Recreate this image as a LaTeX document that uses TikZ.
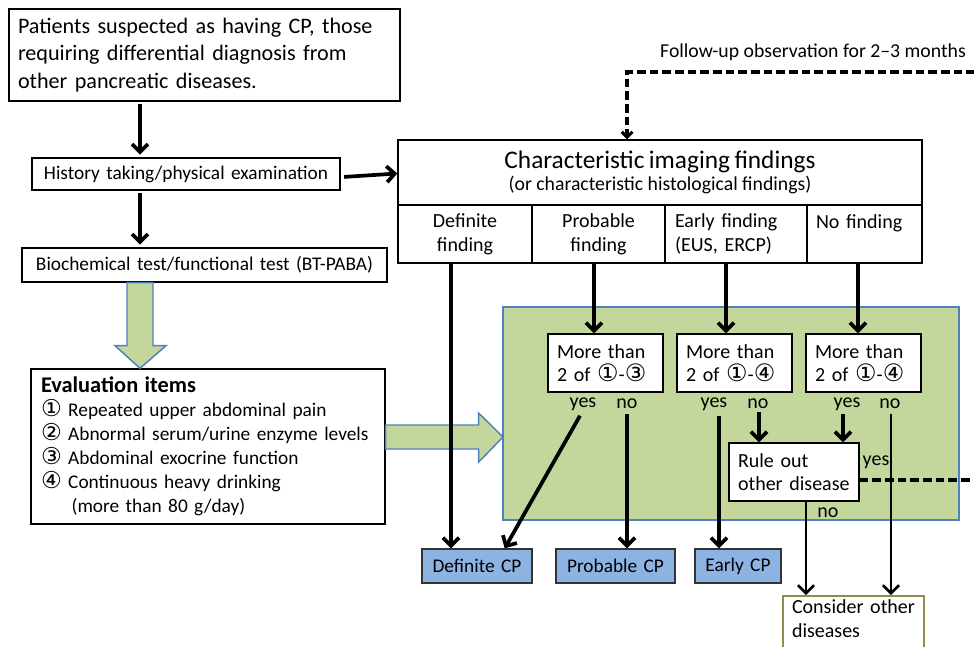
\documentclass[tikz,border=0pt]{standalone}
\usepackage{fontspec}
\setmainfont{Carlito}
\newfontfamily\dv{DejaVu Sans}[Scale=1.2]
\usetikzlibrary{arrows.meta,calc}
\definecolor{gfill}{RGB}{195,214,155}
\definecolor{bborder}{RGB}{79,129,189}
\definecolor{cpblue}{RGB}{141,179,226}
\definecolor{olive}{RGB}{148,138,84}
\newcommand\cn[1]{{\dv #1}}
\newcommand\mybox[8]{%
  \pgfmathsetmacro\bw{(#4-#2)*0.75}%
  \pgfmathsetmacro\bh{(#5-#3)*0.75}%
  \pgfmathsetmacro\tw{(#4-#2-2*#7)*0.75}%
  \node[#6, inner xsep=0pt, inner ysep=0pt, text width=\tw pt, minimum width=\bw pt, minimum height=\bh pt] (#1) at ({(#2+#4)/2},{(#3+#5)/2}) {#8};}
\tikzset{
  box/.style={draw=black, line width=1pt, fill=white},
  cpbox/.style={draw=black!80, line width=1pt, fill=cpblue, align=center, font=\fontsize{14.5}{17}\selectfont},
  lbl/.style={inner sep=0pt, font=\fontsize{15}{17}\selectfont},
  arr/.style={line width=2.8pt, -{Straight Barb[length=6pt,width=12pt]}},
  dsh/.style={line width=2.3pt, dash pattern=on 6.5pt off 3pt},
  garrow/.style={fill=gfill, draw=bborder, line width=1.1pt},
}
\begin{document}
\begin{tikzpicture}[x=0.75pt,y=-0.75pt]
\useasboundingbox (0,0) rectangle (974,646);
\coordinate (x140) at (140,0);
% boxes
\mybox{top}{9}{9}{400}{101}{box, align=left, font=\fontsize{16.6}{20.5}\selectfont}{9}{Patients suspected as having CP, those\\requiring differential diagnosis from\\other pancreatic diseases.}
\mybox{hist}{32}{158}{340}{190}{box, align=center, font=\fontsize{14.5}{17}\selectfont}{2}{History taking/physical examination}
\mybox{bio}{22}{248}{387}{282}{box, align=center, font=\fontsize{14.5}{17}\selectfont}{2}{Biochemical test/functional test (BT-PABA)}
\mybox{eval}{31}{369}{385}{524}{box, align=left, font=\fontsize{14.5}{18}\selectfont}{10}{{\fontsize{16.8}{18}\selectfont\bfseries Evaluation items}\\\cn{①} Repeated upper abdominal pain\\\cn{②} Abnormal serum/urine enzyme levels\\\cn{③} Abdominal exocrine function\\\cn{④} Continuous heavy drinking\\\hspace*{23pt}(more than 80 g/day)}
% green down arrow
\draw[garrow] ($(bio.south -| x140)+(-13,0)$) -- ++(26,0) -- ++(0,63) -- ++(13,0) -- (eval.north -| x140) -- ($(bio.south -| x140)+(-25,63)$) -- ++(12,0) -- cycle;
% green region
\mybox{grp}{503}{307}{959}{520}{fill=gfill, draw=bborder, line width=1pt}{0}{}
\coordinate (tipR) at (503,437);
\draw[garrow] ($(eval.east)+(0,-21.5)$) -- ++(93,0) -- ++(0,-12) -- (tipR) -- ($(eval.east)+(93,15.5)$) -- ++(0,-13) -- ($(eval.east)+(0,2.5)$) -- cycle;
% characteristic box
\mybox{ct}{398}{140}{922}{205}{box, align=center}{4}{{\fontsize{19}{19}\selectfont Characteristic imaging findings}\\[2pt]{\fontsize{14.8}{15}\selectfont (or characteristic histological findings)}}
\mybox{c1}{398}{205}{532}{263}{box, align=center, font=\fontsize{15}{18}\selectfont}{2}{Definite\\finding}
\mybox{c2}{532}{205}{665}{263}{box, align=center, font=\fontsize{15}{18}\selectfont}{2}{Probable\\finding}
\mybox{c3}{665}{205}{807}{263}{box, align=left, font=\fontsize{15}{18}\selectfont}{10}{Early finding\\(EUS, ERCP)}
\mybox{c4}{807}{205}{922}{263}{box, align=left, font=\fontsize{15}{18}\selectfont}{9}{No finding\\\mbox{}}
% criteria boxes
\mybox{m1}{548}{334}{663}{392}{box, align=left, font=\fontsize{15}{17.5}\selectfont}{9}{More than\\2 of \cn{①}-\cn{③}}
\mybox{m2}{677}{334}{792}{392}{box, align=left, font=\fontsize{15}{17.5}\selectfont}{9}{More than\\2 of \cn{①}-\cn{④}}
\mybox{m3}{806}{334}{921}{392}{box, align=left, font=\fontsize{15}{17.5}\selectfont}{9}{More than\\2 of \cn{①}-\cn{④}}
\mybox{rule}{729}{443}{859}{501}{box, align=left, font=\fontsize{15}{17}\selectfont}{9}{Rule out\\other disease}
% outcome boxes
\mybox{dcp}{422}{549}{532}{583}{cpbox}{2}{Definite CP}
\mybox{pcp}{556}{549}{675}{583}{cpbox}{2}{Probable CP}
\mybox{ecp}{695}{549}{781}{583}{cpbox}{2}{Early CP}
\mybox{cons}{783}{596}{924}{666}{draw=olive, line width=1.4pt, fill=white, align=left, font=\fontsize{15}{18}\selectfont}{9}{Consider other\\diseases\\\mbox{}}
% labels
\node[lbl] (y1) at (583,404) {yes};
\node[lbl] (n1) at (627,404) {no};
\node[lbl] (y2) at (714,404) {yes};
\node[lbl] (n2) at (758,404) {no};
\node[lbl] (y3) at (847,404) {yes};
\node[lbl] (n3) at (890,404) {no};
\node[lbl] (yR) at (876,462) {yes};
\node[lbl] (nR) at (828,513) {no};
\node[lbl, font=\fontsize{14.8}{16}\selectfont] (fu) at (813,52) {Follow-up observation for 2–3 months};
% x positions
\coordinate (x451) at (451,0);
\coordinate (x594) at (594,0);
\coordinate (x726) at (726,0);
\coordinate (x858) at (858,0);
\coordinate (x627) at (627,0);
\coordinate (x719) at (719,0);
\coordinate (x759) at (759,0);
\coordinate (x843) at (843,0);
\coordinate (x891) at (891,0);
\coordinate (x806) at (806,0);
\coordinate (e1) at (975,480);
\coordinate (e2) at (975,72);
% connectors
\draw[arr, shorten <=2pt, shorten >=2pt] (top.south -| x140) -- (hist.north -| x140);
\draw[arr, shorten <=2pt, shorten >=2pt] (hist.south -| x140) -- (bio.north -| x140);
\draw[arr, shorten <=1pt] ($(hist.east)+(2,3)$) -- ($(ct.west)+(0,1)$);
\draw[arr] (c1.south -| x451) -- (dcp.north -| x451);
\draw[arr] (c2.south -| x594) -- (m1.north -| x594);
\draw[arr] (c3.south -| x726) -- (m2.north -| x726);
\draw[arr] (c4.south -| x858) -- (m3.north -| x858);
\draw[arr] ($(y1.south)+(-3,5)$) -- ($(dcp.north east)+(-28,0)$);
\draw[arr] ($(n1.south)+(0,5)$) -- (pcp.north -| x627);
\draw[arr] ($(y2.south -| x719)+(0,5)$) -- (ecp.north -| x719);
\draw[arr] ($(n2.south -| x759)+(0,3)$) -- (rule.north -| x759);
\draw[arr] ($(y3.south -| x843)+(0,3)$) -- (rule.north -| x843);
\draw[arr, line width=2pt] ($(n3.south -| x891)+(0,5)$) -- (cons.north -| x891);
\draw[arr, line width=2pt] (rule.south -| x806) -- (cons.north -| x806);
\draw[dsh] ($(rule.east)+(0,8)$) -- (e1);
\draw[dsh, -{Straight Barb[length=4pt,width=8pt]}] (e2) -- (e2 -| x627) -- (ct.north -| x627);
\end{tikzpicture}
\end{document}
